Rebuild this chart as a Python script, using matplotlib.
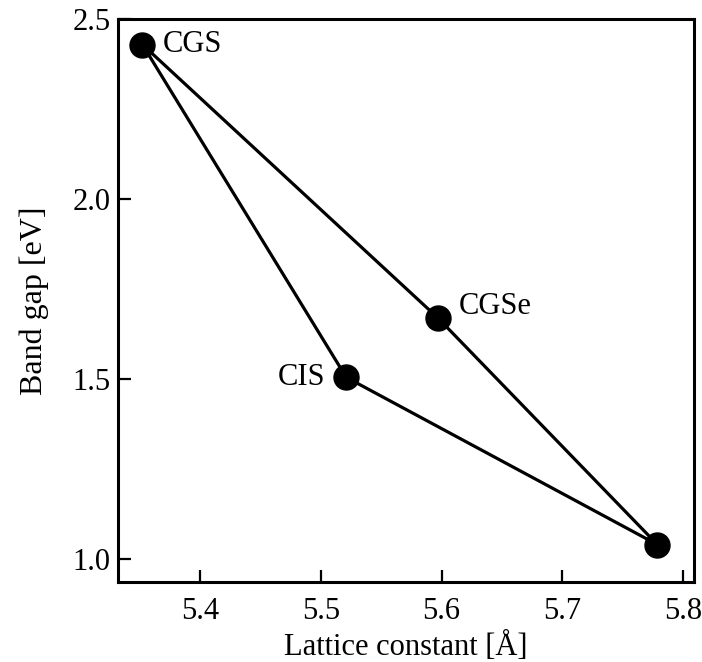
import matplotlib
matplotlib.use('Agg')
import matplotlib.pyplot as plt

# Chalcopyrite compounds: lattice constant (Angstrom) vs band gap (eV)
names = ['CGS', 'CGSe', '', 'CIS']
lattice = [5.352, 5.597, 5.779, 5.521]
band_gap = [2.43, 1.67, 1.04, 1.505]

plt.rcParams['font.family'] = ['Liberation Serif', 'DejaVu Serif']

fig = plt.figure(figsize=(7.02, 6.62), dpi=100)
ax = fig.add_axes([0.1678, 0.1213, 0.8201, 0.8495])

# closed outline through the four compounds
xs = lattice + [lattice[0]]
ys = band_gap + [band_gap[0]]
ax.plot(xs, ys, color='black', linewidth=2.3, zorder=2)
ax.plot(lattice, band_gap, 'o', color='black', markersize=18, zorder=3)

# text labels next to the points
offsets = {'CGS': (15, 0, 'left'), 'CGSe': (15, 8, 'left'), 'CIS': (-15, 0, 'right')}
for name, x, y in zip(names, lattice, band_gap):
    if not name:
        continue
    dx, dy, ha = offsets[name]
    ax.annotate(name, (x, y), xytext=(dx, dy), textcoords='offset points',
                ha=ha, va='center', fontsize=22)

ax.set_xlim(5.3316, 5.8089)
ax.set_ylim(0.937, 2.49)
ax.set_xticks([5.4, 5.5, 5.6, 5.7, 5.8])
ax.set_yticks([1.0, 1.5, 2.0, 2.5])
ax.set_xticklabels(['5.4', '5.5', '5.6', '5.7', '5.8'])
ax.set_yticklabels(['1.0', '1.5', '2.0', '2.5'])
ax.tick_params(direction='in', length=9, width=1.6, labelsize=22,
               top=False, right=False)
ax.tick_params(axis='x', pad=11)
ax.tick_params(axis='y', pad=5)

for spine in ax.spines.values():
    spine.set_linewidth(2.2)

ax.set_xlabel('Lattice constant [Å]', fontsize=22, labelpad=4)
ax.set_ylabel('Band gap [eV]', fontsize=23, labelpad=17)

plt.savefig('out.png', dpi=100)
plt.close()
